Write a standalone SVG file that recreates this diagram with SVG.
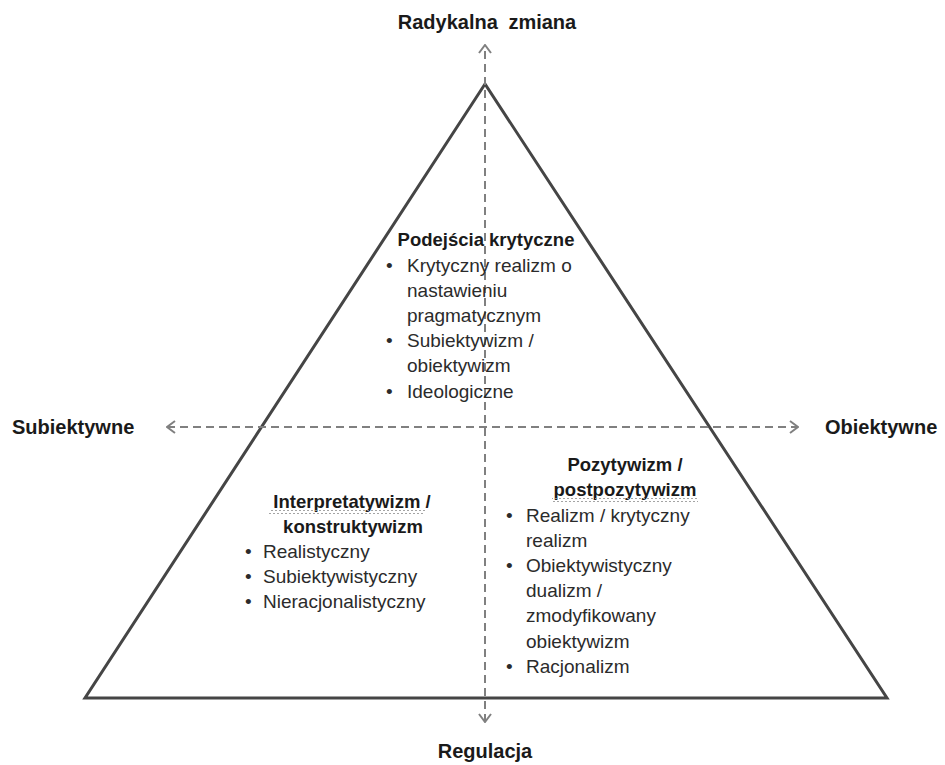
<svg xmlns="http://www.w3.org/2000/svg" width="945" height="765" viewBox="0 0 945 765">
  <style>
    text { font-family: "Liberation Sans", Arial, sans-serif; }
    .axis { font-size: 20px; font-weight: bold; fill: #1a1a1a; }
    .title { font-size: 18.5px; font-weight: bold; fill: #1a1a1a; text-anchor: middle; }
    .body { font-size: 19px; fill: #2b2b2b; }
    .tri { fill: #ffffff; stroke: #454545; stroke-width: 3; stroke-linejoin: miter; }
    .dash { fill: none; stroke: #808080; stroke-width: 2; stroke-dasharray: 8 5; }
  </style>
  <defs>
    <marker id="chev" viewBox="0 0 10 14" refX="9" refY="7" markerWidth="10" markerHeight="14" markerUnits="userSpaceOnUse" orient="auto-start-reverse">
      <path d="M1,1 L9,7 L1,13" fill="none" stroke="#808080" stroke-width="2"/>
    </marker>
    <pattern id="wave" width="4" height="4" patternUnits="userSpaceOnUse">
      <path d="M0,3 L2,1 L4,3" fill="none" stroke="#9a9a9a" stroke-width="0.9"/>
    </pattern>
  </defs>

  <rect width="945" height="765" fill="#ffffff"/>

  <g id="triangle">
    <polygon class="tri" points="485,84 85,698 887,698"/>
  </g>

  <g id="connectors">
    <line class="dash" x1="485" y1="722" x2="485" y2="45" marker-start="url(#chev)" marker-end="url(#chev)"/>
    <line class="dash" x1="167" y1="427" x2="798" y2="427" marker-start="url(#chev)" marker-end="url(#chev)"/>
  </g>

  <g id="axis-top">
    <text class="axis" x="487" y="29" text-anchor="middle" word-spacing="5">Radykalna zmiana</text>
  </g>
  <g id="axis-bottom">
    <text class="axis" x="485" y="758" text-anchor="middle">Regulacja</text>
  </g>
  <g id="axis-left">
    <text class="axis" x="12" y="434">Subiektywne</text>
  </g>
  <g id="axis-right">
    <text class="axis" x="825" y="434">Obiektywne</text>
  </g>

  <g id="critical">
    <text class="title" x="486" y="246">Podejścia krytyczne</text>
    <text class="body" x="386" y="272">•</text>
    <text class="body" x="407" y="272">Krytyczny realizm o</text>
    <text class="body" x="407" y="297">nastawieniu</text>
    <text class="body" x="407" y="322">pragmatycznym</text>
    <text class="body" x="386" y="347">•</text>
    <text class="body" x="407" y="347">Subiektywizm /</text>
    <text class="body" x="407" y="372">obiektywizm</text>
    <text class="body" x="386" y="398">•</text>
    <text class="body" x="407" y="398">Ideologiczne</text>
  </g>

  <g id="interpretivism">
    <text class="title" x="352" y="508">Interpretatywizm /</text>
    <rect x="269" y="510" width="156" height="4" fill="url(#wave)"/>
    <text class="title" x="353" y="533">konstruktywizm</text>
    <text class="body" x="245" y="558">•</text>
    <text class="body" x="263" y="558">Realistyczny</text>
    <text class="body" x="245" y="583">•</text>
    <text class="body" x="263" y="583">Subiektywistyczny</text>
    <text class="body" x="245" y="608">•</text>
    <text class="body" x="263" y="608">Nieracjonalistyczny</text>
  </g>

  <g id="positivism">
    <text class="title" x="625" y="471">Pozytywizm /</text>
    <text class="title" x="625" y="496">postpozytywizm</text>
    <rect x="552" y="498" width="146" height="4" fill="url(#wave)"/>
    <text class="body" x="506" y="522">•</text>
    <text class="body" x="526" y="522">Realizm / krytyczny</text>
    <text class="body" x="526" y="547">realizm</text>
    <text class="body" x="506" y="572">•</text>
    <text class="body" x="526" y="572">Obiektywistyczny</text>
    <text class="body" x="526" y="597">dualizm /</text>
    <text class="body" x="526" y="622">zmodyfikowany</text>
    <text class="body" x="526" y="648">obiektywizm</text>
    <text class="body" x="506" y="673">•</text>
    <text class="body" x="526" y="673">Racjonalizm</text>
  </g>
</svg>
